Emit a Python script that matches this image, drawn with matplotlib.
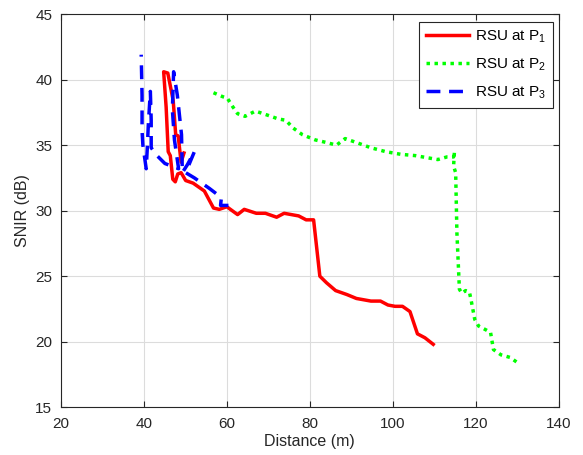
import matplotlib
matplotlib.use('Agg')
import matplotlib.pyplot as plt
import numpy as np

# SNIR vs distance for the three RSU positions
p1_dist = [49.7, 49.0, 48.3, 47.7, 47.1, 45.8, 44.8, 45.4, 45.9, 46.4, 47.0, 47.6, 48.2, 49.0,
           50.1, 51.9, 54.6, 56.8, 58.2, 60.0, 62.6, 64.2, 67.1, 69.3, 72.0, 73.8, 77.3, 79.1,
           80.9, 82.4, 84.0, 86.2, 88.9, 91.2, 94.7, 97.0, 98.8, 100.5, 102.3, 104.1, 105.9,
           107.7, 109.7]
p1_snir = [34.4, 33.7, 35.7, 35.8, 38.4, 40.5, 40.6, 37.9, 34.5, 34.2, 32.4, 32.2, 32.8, 32.9,
           32.3, 32.1, 31.5, 30.2, 30.1, 30.3, 29.7, 30.1, 29.8, 29.8, 29.5, 29.8, 29.6, 29.3,
           29.3, 25.0, 24.5, 23.9, 23.6, 23.3, 23.1, 23.1, 22.8, 22.7, 22.7, 22.3, 20.6,
           20.3, 19.8]

p2_dist = [56.8, 59.0, 60.1, 61.5, 62.6, 64.4, 66.9, 69.7, 72.4, 74.2, 76.0, 78.2, 81.3, 84.0,
           86.4, 88.5, 91.2, 94.7, 98.3, 101.9, 105.4, 109.0, 110.8, 113.0, 114.6, 114.8, 114.6,
           115.1, 115.4, 116.0, 116.6, 117.5, 118.4, 118.8, 119.7, 120.6, 122.4, 123.5, 124.2,
           126.0, 128.2, 130.0]
p2_snir = [39.0, 38.7, 38.6, 37.9, 37.4, 37.2, 37.6, 37.3, 37.0, 36.9, 36.3, 35.8, 35.4, 35.2,
           35.0, 35.5, 35.2, 34.8, 34.5, 34.3, 34.2, 34.0, 33.9, 34.1, 34.1, 34.5, 33.4,
           32.9, 28.3, 24.0, 23.7, 23.9, 23.8, 23.2, 21.7, 21.2, 20.9, 20.7, 19.4,
           19.0, 18.8, 18.4]

p3_dist = [60.4, 58.5, 58.7, 55.8, 52.2, 50.1, 52.2, 50.5, 49.3, 49.1, 48.1, 47.2, 46.9, 47.4,
           48.4, 45.1, 43.2, 41.8, 41.8, 41.6, 41.1, 40.9, 40.6, 39.8, 39.6, 39.6, 39.4]
p3_snir = [30.4, 30.4, 31.0, 31.7, 32.5, 32.9, 34.5, 33.5, 32.9, 35.8, 38.8, 40.6, 37.7, 35.4,
           33.2, 33.6, 34.2, 34.8, 36.9, 39.1, 36.5, 35.0, 33.2, 35.0, 36.1, 38.8, 41.9]

plt.rcParams['font.family'] = ['Liberation Sans', 'DejaVu Sans']
plt.rcParams['mathtext.fontset'] = 'custom'
plt.rcParams['mathtext.rm'] = 'Liberation Sans'
plt.rcParams['mathtext.default'] = 'regular'

fig = plt.figure(figsize=(5.83, 4.55), dpi=100)
ax = fig.add_axes([0.104, 0.105, 0.855, 0.864])

ax.plot(p1_dist, p1_snir, color='red', lw=2.5, label='RSU at P$_1$')
ax.plot(p2_dist, p2_snir, color='#00ff00', lw=2.5, linestyle=(0, (1, 1.3)), label='RSU at P$_2$')
ax.plot(p3_dist, p3_snir, color='blue', lw=2.5, linestyle=(0, (4, 2.5)), label='RSU at P$_3$')

ax.set_xlim(20, 140)
ax.set_ylim(15, 45)
ax.set_xticks(np.arange(20, 141, 20))
ax.set_yticks(np.arange(15, 46, 5))
ax.grid(True, color='#dcdcdc', lw=0.8)
ax.set_axisbelow(True)
ax.tick_params(direction='in', labelsize=11, colors='#262626', length=4, top=True, right=True)
ax.tick_params(axis='x', pad=7)
ax.tick_params(axis='y', pad=6)
for sp in ax.spines.values():
    sp.set_color('#262626')
    sp.set_linewidth(0.8)
ax.set_xlabel('Distance (m)', fontsize=11.5, color='#262626', labelpad=2)
ax.set_ylabel('SNIR (dB)', fontsize=11.5, color='#262626', labelpad=4)

leg = ax.legend(loc='upper right', fontsize=11, fancybox=False, framealpha=1,
                edgecolor='#262626', handlelength=2.8, handletextpad=0.4, borderpad=0.45,
                labelspacing=0.75, borderaxespad=0, bbox_to_anchor=(0.988, 0.98))
leg.get_frame().set_linewidth(0.8)

fig.savefig('out.png', dpi=100)
